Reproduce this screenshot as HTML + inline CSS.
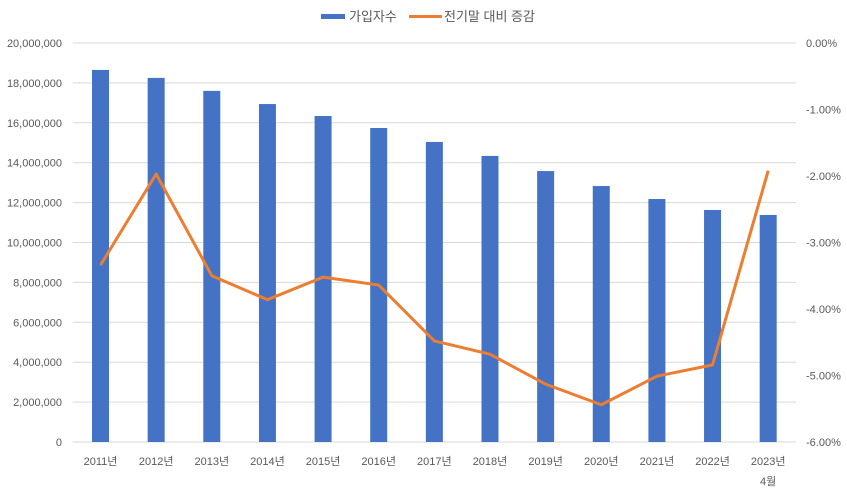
<!DOCTYPE html>
<html><head><meta charset="utf-8"><style>
body{margin:0;background:#fff;}
svg text{font-family:"Liberation Sans","Noto Sans CJK KR",sans-serif;fill:#595959;}
</style></head><body>
<svg id="chart" width="847" height="494" xmlns="http://www.w3.org/2000/svg">
<g id="grid"></g>
<g id="bars"></g>
<g id="line"></g>
<g id="ylab"></g>
<g id="y2lab"></g>
<g id="xlab"></g>
<g>
<rect x="321" y="14" width="24" height="5" fill="#4472C4"/>
<text x="349" y="21" font-size="13">가입자수</text>
<line x1="409" y1="16.5" x2="442" y2="16.5" stroke="#ED7D31" stroke-width="3"/>
<text x="444" y="21" font-size="13">전기말 대비 증감</text>
</g>
</svg>
<script>
const categories=["2011년","2012년","2013년","2014년","2015년","2016년","2017년","2018년","2019년","2020년","2021년","2022년","2023년"];
const subscribers=[18650000,18250000,17600000,16940000,16340000,15740000,15040000,14340000,13580000,12830000,12180000,11630000,11380000];
const changePct=[-3.34,-1.97,-3.50,-3.86,-3.52,-3.64,-4.48,-4.68,-5.13,-5.44,-5.01,-4.84,-1.92];
const leftTicks=[0,2000000,4000000,6000000,8000000,10000000,12000000,14000000,16000000,18000000,20000000];
const rightTicks=[0,-1,-2,-3,-4,-5,-6];
const NS="http://www.w3.org/2000/svg";
const L=72.7,R=796,T=43,B=442;
const step=(R-L)/categories.length;
function x(i){return L+step*(i+0.5);}
function y(v){return B-(v/20000000)*(B-T);}
function y2(p){return T+(-p/6)*(B-T);}
function mk(tag,attrs,parent){const e=document.createElementNS(NS,tag);for(const k in attrs)e.setAttribute(k,attrs[k]);document.getElementById(parent).appendChild(e);return e;}
leftTicks.forEach(v=>{
  const g=mk('line',{x1:L,x2:R,y1:y(v),y2:y(v),stroke:'#D9D9D9','stroke-width':1},'grid');
  
  
  const t=mk('text',{x:62,y:y(v)+4,'text-anchor':'end','font-size':11},'ylab');
  t.textContent=v.toLocaleString('en-US');
  
  
});
rightTicks.forEach(p=>{
  const t=mk('text',{x:806,y:y2(p)+4,'font-size':11},'y2lab');
  t.textContent=p.toFixed(2)+'%';
  
  
});
subscribers.forEach((v,i)=>{
  const r=mk('rect',{x:x(i)-8.5,y:y(v),width:17,height:B-y(v),fill:'#4472C4'},'bars');
  
  
});
const pts=changePct.map((p,i)=>x(i)+','+y2(p)).join(' ');
const pl=mk('polyline',{points:pts,fill:'none',stroke:'#ED7D31','stroke-width':3,'stroke-linejoin':'round'},'line');


categories.forEach((c,i)=>{
  const t=mk('text',{x:x(i),y:465,'text-anchor':'middle','font-size':11},'xlab');
  t.textContent=c;
  
  
});
const m=mk('text',{x:x(12),y:485,'text-anchor':'middle','font-size':11},'xlab');
m.textContent='4월';


</script>
</body></html>
